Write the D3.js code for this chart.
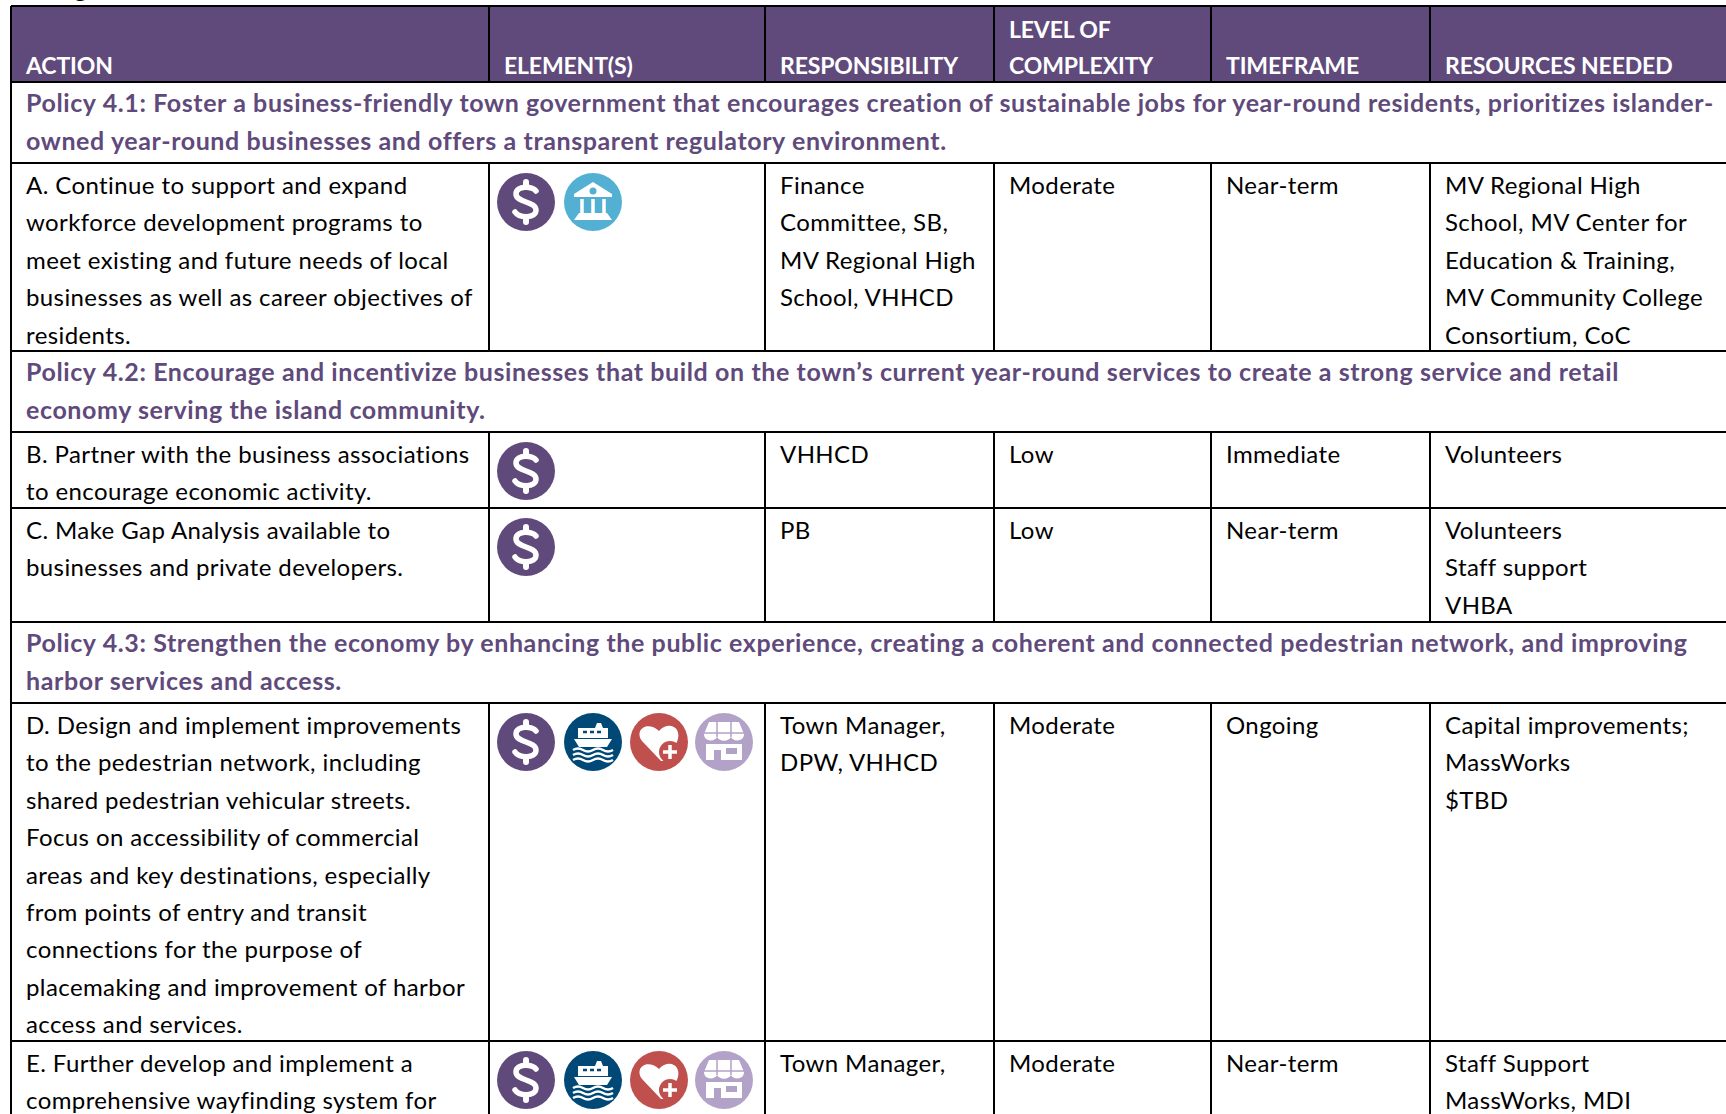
<!DOCTYPE html>
<html>
<head>
<meta charset="utf-8">
<script src="https://cdn.jsdelivr.net/npm/d3@7"></script>
<style>
  html, body { margin: 0; padding: 0; background: #fff; overflow: hidden; }
  text { font-family: Lato, sans-serif; }
</style>
</head>
<body>
<div id="plot"></div>
<script>
// table content, lines broken as in the source page
const headers = [["ACTION"], ["ELEMENT(S)"], ["RESPONSIBILITY"], ["LEVEL OF", "COMPLEXITY"], ["TIMEFRAME"], ["RESOURCES NEEDED"]];

const policy41 = ["Policy 4.1: Foster a business-friendly town government that encourages creation of sustainable jobs for year-round residents, prioritizes islander-",
  "owned year-round businesses and offers a transparent regulatory environment."];
const policy42 = ["Policy 4.2: Encourage and incentivize businesses that build on the town\u2019s current year-round services to create a strong service and retail",
  "economy serving the island community."];
const policy43 = ["Policy 4.3: Strengthen the economy by enhancing the public experience, creating a coherent and connected pedestrian network, and improving",
  "harbor services and access."];

const actionA = ["A. Continue to support and expand", "workforce development programs to", "meet existing and future needs of local", "businesses as well as career objectives of", "residents."];
const actionB = ["B. Partner with the business associations", "to encourage economic activity."];
const actionC = ["C. Make Gap Analysis available to", "businesses and private developers."];
const actionD = ["D. Design and implement improvements", "to the pedestrian network, including", "shared pedestrian vehicular streets.", "Focus on accessibility of commercial", "areas and key destinations, especially", "from points of entry and transit", "connections for the purpose of", "placemaking and improvement of harbor", "access and services."];
const actionE = ["E. Further develop and implement a", "comprehensive wayfinding system for"];

const elementsA = ["dollar", "bank"];
const elementsB = ["dollar"];
const elementsC = ["dollar"];
const elementsD = ["dollar", "ship", "heart", "shop"];
const elementsE = ["dollar", "ship", "heart", "shop"];

const responsibilityA = ["Finance", "Committee, SB,", "MV Regional High", "School, VHHCD"];
const responsibilityB = ["VHHCD"];
const responsibilityC = ["PB"];
const responsibilityD = ["Town Manager,", "DPW, VHHCD"];
const responsibilityE = ["Town Manager,"];

const complexity = ["Moderate", "Low", "Low", "Moderate", "Moderate"];
const timeframe = ["Near-term", "Immediate", "Near-term", "Ongoing", "Near-term"];

const resourcesA = ["MV Regional High", "School, MV Center for", "Education & Training,", "MV Community College", "Consortium, CoC"];
const resourcesB = ["Volunteers"];
const resourcesC = ["Volunteers", "Staff support", "VHBA"];
const resourcesD = ["Capital improvements;", "MassWorks", "$TBD"];
const resourcesE = ["Staff Support", "MassWorks, MDI"];

// table layout
const width = 1726, height = 1114;
const purple = "#604a7b";
const rowKeys = ["head", "p41", "A", "p42", "B", "C", "p43", "D", "E", "end"];
const y = d3.scaleOrdinal().domain(rowKeys).range([6, 82, 163, 351, 432, 508, 622, 703, 1041, 1200]);
const colKeys = ["action", "elements", "responsibility", "complexity", "timeframe", "resources", "end"];
const x = d3.scaleOrdinal().domain(colKeys).range([11, 489, 765, 994, 1211, 1430, 1740]);

const lineHeight = 37.4, pad = 15;
const bodyStyle = { color: "#000", weight: 400, size: 24, spacing: 0.4, pitch: lineHeight };
const headStyle = { color: "#fff", weight: 700, size: 23, spacing: -0.15, pitch: 36 };
const policyStyle = { color: purple, weight: 700, size: 25, spacing: 0.6, pitch: 37.6 };

const rows = [
  ["A", actionA, elementsA, responsibilityA, complexity[0], timeframe[0], resourcesA],
  ["B", actionB, elementsB, responsibilityB, complexity[1], timeframe[1], resourcesB],
  ["C", actionC, elementsC, responsibilityC, complexity[2], timeframe[2], resourcesC],
  ["D", actionD, elementsD, responsibilityD, complexity[3], timeframe[3], resourcesD],
  ["E", actionE, elementsE, responsibilityE, complexity[4], timeframe[4], resourcesE]
];
const policies = [["p41", policy41], ["p42", policy42], ["p43", policy43]];

// white glyphs inside the round element icons
const glyphs = {
  dollar(g) {
    g.append("path")
      .attr("d", "M10,-11 C7,-16 -10,-17 -10,-8 C-10,1 10,-1 10,8 C10,17 -7,16 -11,10")
      .attr("fill", "none").attr("stroke", "#fff").attr("stroke-width", 5.5).attr("stroke-linecap", "round");
    g.append("path").attr("d", "M0,-20V-15M0,15V20")
      .attr("stroke", "#fff").attr("stroke-width", 6).attr("stroke-linecap", "round");
  },
  bank(g) {
    g.append("path").attr("d", "M0,-20 L19,-8 V-5 H-19 V-8 Z").attr("fill", "#fff");
    g.append("circle").attr("cy", -11).attr("r", 3.5).attr("fill", "#53b0d3");
    g.append("path").attr("d", "M-11,-3 V12 M0,-3 V12 M11,-3 V12")
      .attr("stroke", "#fff").attr("stroke-width", 3.5);
    g.append("path").attr("d", "M-19,18 L-14,11 H14 L19,18 Z").attr("fill", "#fff");
  },
  ship(g) {
    g.append("path").attr("d", "M-15,-14 H2 L4,-19 H8 L10,-14 H15 L15,-4 H-15 Z M-19,-3 H19 L14,5 H-14 Z").attr("fill", "#fff");
    g.append("path").attr("d", "M-10,-10 H-6 M-3,-10 H1 M4,-10 H8").attr("stroke", "#004876").attr("stroke-width", 2.5);
    g.append("path")
      .attr("d", "M-20,8 q5,-3 10,0 t10,0 t10,0 t10,0 M-20,13 q5,-3 10,0 t10,0 t10,0 t10,0 M-20,18 q5,-3 10,0 t10,0 t10,0 t10,0")
      .attr("fill", "none").attr("stroke", "#fff").attr("stroke-width", 2.5);
  },
  heart(g) {
    g.append("path")
      .attr("d", "M2,19 L-17,-1 C-25,-12 -12,-22 0,-11 C10,-22 24,-14 18,0 L4,19 Z")
      .attr("fill", "#fff");
    g.append("circle").attr("cx", 11).attr("cy", 10).attr("r", 11).attr("fill", "#c0504d");
    g.append("path").attr("d", "M11,3 V17 M4,10 H18").attr("stroke", "#fff").attr("stroke-width", 3.5);
  },
  shop(g) {
    g.append("path")
      .attr("d", "M-15,-20 H15 L20,-8 C20,0 9,0 7,-5 C4,0 -4,0 -7,-5 C-9,0 -20,0 -20,-8 Z")
      .attr("fill", "#fff");
    g.append("path").attr("d", "M-7,-20 L-7,-5 M7,-20 L7,-5 M-20,-9 H20")
      .attr("stroke", "#b3a2c7").attr("stroke-width", 1.5);
    g.append("path").attr("d", "M-18,2 H18 V18 H-18 Z").attr("fill", "#fff");
    g.append("path").attr("d", "M-10,8 H-3 V18 H-10 Z M2,6 H13 V12 H2 Z").attr("fill", "#b3a2c7");
  }
};

const svg = d3.select("#plot").append("svg")
  .attr("width", width)
  .attr("height", height)
  .style("display", "block");

// header band
svg.append("rect")
  .attr("x", x("action")).attr("y", y("head"))
  .attr("width", width - x("action")).attr("height", y("p41") - y("head"))
  .attr("fill", purple);

function writeLines(lines, tx, firstBaseline, style) {
  svg.append("text")
    .attr("fill", style.color)
    .attr("font-weight", style.weight)
    .attr("font-size", style.size)
    .attr("letter-spacing", style.spacing)
    .selectAll("tspan")
    .data(lines)
    .enter().append("tspan")
    .attr("x", tx)
    .attr("y", (d, i) => firstBaseline + i * style.pitch)
    .text(d => d);
}

// tail of the clipped heading above the table
svg.append("text").attr("x", 74).attr("y", -3)
  .attr("font-size", 26).attr("font-weight", 700).attr("fill", "#000").text("g");

// header labels sit on the bottom of the band
const headerKeys = colKeys.slice(0, 6);
headers.forEach((lines, i) => {
  writeLines(lines, x(headerKeys[i]) + pad, y("p41") - 8 - (lines.length - 1) * headStyle.pitch, headStyle);
});

// policy rows
policies.forEach(([key, lines]) => {
  writeLines(lines, x("action") + pad, y(key) + 30, policyStyle);
});

function drawIcons(kinds, cy) {
  const cx = d3.scaleOrdinal().domain(d3.range(4)).range([526, 593, 659, 724]);
  const colors = { dollar: purple, bank: "#53b0d3", ship: "#004876", heart: "#c0504d", shop: "#b3a2c7" };
  kinds.forEach((kind, i) => {
    const g = svg.append("g").attr("transform", `translate(${cx(i)},${cy})`);
    g.append("circle").attr("r", 29).attr("fill", colors[kind]);
    glyphs[kind](g);
  });
}

// body rows
rows.forEach(row => {
  const top = y(row[0]);
  const base = top + 31;
  writeLines(row[1], x("action") + pad, base, bodyStyle);
  drawIcons(row[2], top + 39);
  writeLines(row[3], x("responsibility") + pad, base, bodyStyle);
  writeLines([row[4]], x("complexity") + pad, base, bodyStyle);
  writeLines([row[5]], x("timeframe") + pad, base, bodyStyle);
  writeLines(row[6], x("resources") + pad, base, bodyStyle);
});

// rules
const hKeys = ["head", "p41", "A", "p42", "B", "C", "p43", "D", "E"];
svg.selectAll("line.h").data(hKeys).enter().append("line")
  .attr("class", "h")
  .attr("x1", x("action")).attr("x2", width)
  .attr("y1", d => y(d)).attr("y2", d => y(d))
  .attr("stroke", "#000").attr("stroke-width", 2);

// vertical rules are broken by the policy rows
const spans = [["head", "p41"], ["A", "p42"], ["B", "p43"], ["D", "end"]];
spans.forEach(([from, to]) => {
  svg.selectAll(null).data(colKeys.slice(1, 6)).enter().append("line")
    .attr("x1", d => x(d)).attr("x2", d => x(d))
    .attr("y1", y(from)).attr("y2", y(to))
    .attr("stroke", "#000").attr("stroke-width", 2);
});
svg.append("line")
  .attr("x1", x("action")).attr("x2", x("action"))
  .attr("y1", y("head")).attr("y2", height)
  .attr("stroke", "#000").attr("stroke-width", 2);
</script>
</body>
</html>
